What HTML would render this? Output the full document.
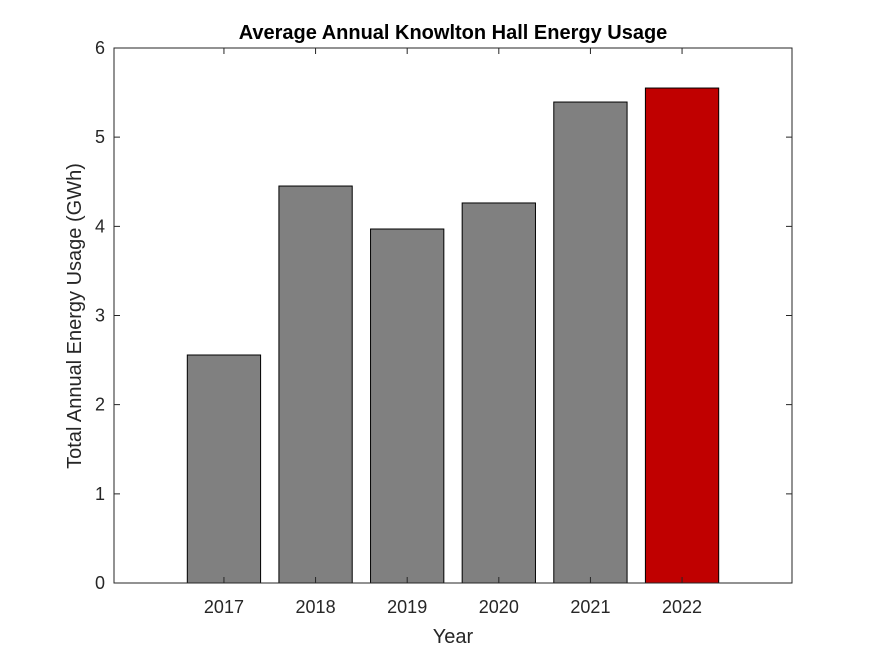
<!DOCTYPE html>
<html><head><meta charset="utf-8"><style>
body{margin:0;background:#fff;}
svg{display:block;font-family:"Liberation Sans",Arial,sans-serif;}
</style></head><body>
<svg id="chart" width="875" height="656" viewBox="0 0 875 656">
<rect width="875" height="656" fill="#fff"/>
<text x="453" y="39" text-anchor="middle" font-size="20" font-weight="bold" fill="#000">Average Annual Knowlton Hall Energy Usage</text>
<g id="bars"></g>
<g id="axes"></g>
<text x="453" y="643" text-anchor="middle" font-size="20" fill="#262626">Year</text>
<text transform="translate(81,316) rotate(-90)" text-anchor="middle" font-size="20" fill="#262626">Total Annual Energy Usage (GWh)</text>
</svg>
<script>
const categories = [2017, 2018, 2019, 2020, 2021, 2022];
const values = [2.557, 4.452, 3.97, 4.262, 5.394, 5.551];
const yTicks = [0, 1, 2, 3, 4, 5, 6];
const L=114,R=792,T=48,B=583;
const xMin=2015.8,xMax=2023.2,yMin=0,yMax=6;
const xs=v=>L+(v-xMin)/(xMax-xMin)*(R-L);
const ys=v=>B-(v-yMin)/(yMax-yMin)*(B-T);
const NS='http://www.w3.org/2000/svg';
const bars=document.getElementById('bars'),axes=document.getElementById('axes');
function mk(tag,attrs,parent){const e=document.createElementNS(NS,tag);for(const k in attrs)e.setAttribute(k,attrs[k]);parent.appendChild(e);return e;}
const bw=(xs(1)-xs(0))*0.8;
categories.forEach((c,i)=>{
  const r=mk('rect',{x:xs(c)-bw/2,y:ys(values[i]),width:bw,height:ys(0)-ys(values[i]),fill:i===categories.length-1?'#c00000':'#808080',stroke:'#000','stroke-width':1},bars);
  
  
  const t=mk('text',{x:xs(c),y:B+30,'text-anchor':'middle','font-size':18,fill:'#262626'},axes);
  t.textContent=c;
  
  
  const tk=mk('path',{d:`M${xs(c)},${B}v-6M${xs(c)},${T}v6`,stroke:'#262626','stroke-width':1},axes);
  
  
});
yTicks.forEach(v=>{
  const t=mk('text',{x:L-9,y:ys(v)+6,'text-anchor':'end','font-size':18,fill:'#262626'},axes);
  t.textContent=v;
  
  
  const tk=mk('path',{d:`M${L},${ys(v)}h6M${R},${ys(v)}h-6`,stroke:'#262626','stroke-width':1},axes);
  
  
});
const box=mk('rect',{x:L,y:T,width:R-L,height:B-T,fill:'none',stroke:'#262626','stroke-width':1},axes);


</script>
</body></html>
